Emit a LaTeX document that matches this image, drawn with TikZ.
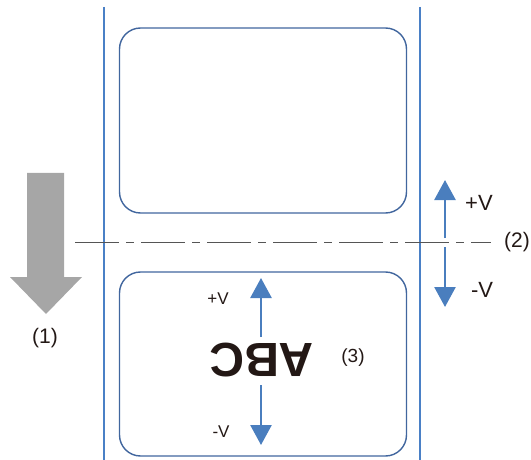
\documentclass[tikz,border=0pt]{standalone}
\usepackage{fontspec}
\setmainfont{Liberation Sans}
\usetikzlibrary{arrows.meta}
\definecolor{rectblue}{HTML}{41669E}
\definecolor{lineblue}{HTML}{4A80C6}
\definecolor{arrblue}{HTML}{4A7EBE}
\definecolor{arrgray}{HTML}{A6A6A6}
\definecolor{txt}{HTML}{231815}
\definecolor{dashgray}{HTML}{555555}
\tikzset{
  labelbox/.style={draw=rectblue, line width=1.4pt, rounded corners=21pt},
  rail/.style={draw=lineblue, line width=2pt},
  varrow/.style={draw=arrblue, line width=2.6pt, -{Triangle[width=21pt,length=20pt]}},
  lbl/.style={text=txt, font=\fontsize{21}{23}\selectfont, inner sep=0pt},
  lblsmall/.style={text=txt, font=\fontsize{17}{19}\selectfont, inner sep=0pt},
  cutline/.style={draw=dashgray, line width=1pt, dash pattern=on 44pt off 7pt on 8pt off 7pt}
}
\begin{document}
\begin{tikzpicture}[x=1pt,y=-1pt]
\useasboundingbox (0,0) rectangle (531,460);
% rails
\coordinate (railLtop) at (104,7);
\coordinate (railLbot) at (104,460);
\coordinate (railRtop) at (420,7);
\coordinate (railRbot) at (420,460);
\draw[rail] (railLtop) -- (railLbot);
\draw[rail] (railRtop) -- (railRbot);
% labels (rounded rectangles)
\node[labelbox, minimum width=287pt, minimum height=185pt] (top) at (263,120.5) {};
\node[labelbox, minimum width=287pt, minimum height=184pt] (bot) at (263,364) {};
% cut line
\coordinate (cutL) at (75,242);
\coordinate (cutR) at (491,242);
\draw[cutline] (cutL) -- (cutR);
\node[lbl] (n2) at (517,242) {(2)};
% feed arrow
\fill[arrgray] (27,173) -- (64,173) -- (64,277) -- (82,277) -- (46,314) -- (10,277) -- (27,277) -- cycle;
\node[lbl] (n1) at (45,338) {(1)};
% right arrows
\coordinate (ru0) at (445,238);
\coordinate (ru1) at (445,180);
\coordinate (rd0) at (445,247);
\coordinate (rd1) at (445,307);
\draw[varrow] (ru0) -- (ru1);
\draw[varrow] (rd0) -- (rd1);
\node[lbl, font=\fontsize{22}{24}\selectfont] (rpv) at (479,203) {+V};
\node[lbl, font=\fontsize{22}{24}\selectfont] (rmv) at (482,290) {-V};
% inside arrows
\coordinate (bu0) at (261,337);
\coordinate (bu1) at (261,278);
\coordinate (bd0) at (261,385);
\coordinate (bd1) at (261,445);
\draw[varrow] (bu0) -- (bu1);
\draw[varrow] (bd0) -- (bd1);
\node[lblsmall] (bpv) at (218,299) {+V};
\node[lblsmall] (bmv) at (221,432) {-V};
\node[text=txt, font=\fontsize{48}{50}\selectfont\bfseries, inner sep=0pt, rotate=180] (abc) at (262,360) {ABC};
\node[text=txt, font=\fontsize{19}{21}\selectfont, inner sep=0pt] (n3) at (353,358) {(3)};
\end{tikzpicture}
\end{document}
